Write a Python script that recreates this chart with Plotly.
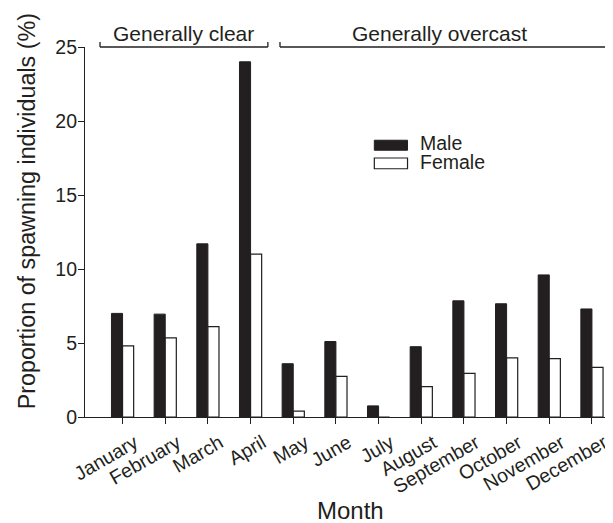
import plotly.graph_objects as go

months = ["January", "February", "March", "April", "May", "June", "July",
          "August", "September", "October", "November", "December"]
male = [7.0, 6.95, 11.7, 24.0, 3.6, 5.1, 0.75, 4.75, 7.85, 7.65, 9.6, 7.3]
female = [4.8, 5.35, 6.1, 11.0, 0.4, 2.75, 0.0, 2.05, 2.95, 4.0, 3.95, 3.35]
y_ticks = [0, 5, 10, 15, 20, 25]

INK = "#231f20"
FONT = "Liberation Sans, Arial, Helvetica, sans-serif"

fig = go.Figure()
fig.add_trace(go.Bar(x=months, y=male, name="Male",
                     marker=dict(color=INK, line=dict(color=INK, width=1)),
                     showlegend=False))
fig.add_trace(go.Bar(x=months, y=female, name="Female",
                     marker=dict(color="white", line=dict(color=INK, width=1.2)),
                     showlegend=False))

# page body has an 8px margin, so the figure is offset by (8, 8)
fig.update_layout(
    width=605, height=515,
    margin=dict(l=77, r=1, t=39, b=106),
    paper_bgcolor="white", plot_bgcolor="white",
    barmode="group", bargap=0.48, bargroupgap=0,
    font=dict(family=FONT, color=INK, size=19),
    xaxis=dict(
        type="category", range=[-0.88, 11.47], automargin=False,
        showline=True, linecolor=INK, linewidth=1.2,
        ticks="outside", ticklen=6, tickwidth=1.2, tickcolor=INK,
        tickangle=-30, tickfont=dict(size=19.5, color=INK),
        ticklabelshift=12, ticklabelstandoff=0,
        showgrid=False, zeroline=False,
    ),
    yaxis=dict(
        range=[0, 25], tickvals=y_ticks, automargin=False,
        showline=True, linecolor=INK, linewidth=1.2,
        ticks="outside", ticklen=6, tickwidth=1.2, tickcolor=INK,
        tickfont=dict(size=19.5, color=INK),
        ticklabelstandoff=-3,
        showgrid=False, zeroline=False,
    ),
)

shapes = []
# period brackets (paper coordinates, above the plot)
tick_h = 0.0135
for x0, x1 in [(0.0285, 0.347), (0.370, 1.0)]:
    shapes.append(dict(type="line", xref="paper", yref="paper", x0=x0, x1=x1, y0=1, y1=1,
                       line=dict(color=INK, width=1.3)))
    shapes.append(dict(type="line", xref="paper", yref="paper", x0=x0, x1=x0, y0=1, y1=1 + tick_h,
                       line=dict(color=INK, width=1.3)))
    shapes.append(dict(type="line", xref="paper", yref="paper", x0=x1, x1=x1, y0=1, y1=1 + tick_h,
                       line=dict(color=INK, width=1.3)))
# manual legend swatches
shapes.append(dict(type="rect", xref="paper", yref="paper", x0=0.549, x1=0.612, y0=0.721, y1=0.748,
                   fillcolor=INK, line=dict(color=INK, width=1)))
shapes.append(dict(type="rect", xref="paper", yref="paper", x0=0.549, x1=0.612, y0=0.671, y1=0.700,
                   fillcolor="white", line=dict(color=INK, width=1.2)))
fig.update_layout(shapes=shapes)

ann = [
    dict(text="Generally clear", xref="paper", yref="paper", x=0.186, y=1,
         xanchor="center", yanchor="middle",
         yshift=14, showarrow=False, font=dict(size=21)),
    dict(text="Generally overcast", xref="paper", yref="paper", x=0.672, y=1,
         xanchor="center", yanchor="middle",
         yshift=14, showarrow=False, font=dict(size=21)),
    dict(text="Male", xref="paper", yref="paper", x=0.632, y=0.740, xanchor="left", yanchor="middle",
         showarrow=False, font=dict(size=19.5)),
    dict(text="Female", xref="paper", yref="paper", x=0.632, y=0.688, xanchor="left", yanchor="middle",
         showarrow=False, font=dict(size=19.5)),
    dict(text="Proportion of spawning individuals (%)", xref="paper", yref="paper",
         x=-0.110, y=0.556, xanchor="center", yanchor="middle",
         textangle=-90, showarrow=False, font=dict(size=23.3)),
    dict(text="Month", xref="paper", yref="paper", x=0.503, y=-0.2528,
         xanchor="center", yanchor="middle", showarrow=False,
         font=dict(size=24)),
]
fig.update_layout(annotations=ann)

fig.write_html("out.html")
